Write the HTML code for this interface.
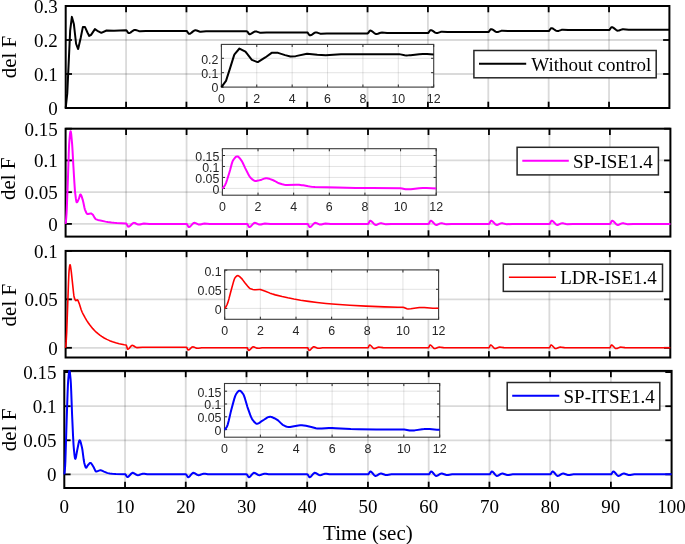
<!DOCTYPE html><html><head><meta charset="utf-8"><style>html,body{margin:0;padding:0;background:#fff;width:685px;height:544px;overflow:hidden}svg{display:block;will-change:transform}</style></head><body>
<svg width="685" height="544" viewBox="0 0 685 544">
<rect width="685" height="544" fill="#fff"/>
<line x1="126.07" y1="6.0" x2="126.07" y2="108.0" stroke="rgba(38,38,38,0.17)" stroke-width="1.8"/>
<line x1="186.44" y1="6.0" x2="186.44" y2="108.0" stroke="rgba(38,38,38,0.17)" stroke-width="1.8"/>
<line x1="246.81" y1="6.0" x2="246.81" y2="108.0" stroke="rgba(38,38,38,0.17)" stroke-width="1.8"/>
<line x1="307.18" y1="6.0" x2="307.18" y2="108.0" stroke="rgba(38,38,38,0.17)" stroke-width="1.8"/>
<line x1="367.55" y1="6.0" x2="367.55" y2="108.0" stroke="rgba(38,38,38,0.17)" stroke-width="1.8"/>
<line x1="427.92" y1="6.0" x2="427.92" y2="108.0" stroke="rgba(38,38,38,0.17)" stroke-width="1.8"/>
<line x1="488.29" y1="6.0" x2="488.29" y2="108.0" stroke="rgba(38,38,38,0.17)" stroke-width="1.8"/>
<line x1="548.66" y1="6.0" x2="548.66" y2="108.0" stroke="rgba(38,38,38,0.17)" stroke-width="1.8"/>
<line x1="609.03" y1="6.0" x2="609.03" y2="108.0" stroke="rgba(38,38,38,0.17)" stroke-width="1.8"/>
<line x1="65.7" y1="74.00" x2="669.4" y2="74.00" stroke="rgba(38,38,38,0.17)" stroke-width="1.8"/>
<line x1="65.7" y1="40.00" x2="669.4" y2="40.00" stroke="rgba(38,38,38,0.17)" stroke-width="1.8"/>
<line x1="126.07" y1="108.0" x2="126.07" y2="101.7" stroke="#000" stroke-width="1.8"/>
<line x1="126.07" y1="6.0" x2="126.07" y2="12.3" stroke="#000" stroke-width="1.8"/>
<line x1="186.44" y1="108.0" x2="186.44" y2="101.7" stroke="#000" stroke-width="1.8"/>
<line x1="186.44" y1="6.0" x2="186.44" y2="12.3" stroke="#000" stroke-width="1.8"/>
<line x1="246.81" y1="108.0" x2="246.81" y2="101.7" stroke="#000" stroke-width="1.8"/>
<line x1="246.81" y1="6.0" x2="246.81" y2="12.3" stroke="#000" stroke-width="1.8"/>
<line x1="307.18" y1="108.0" x2="307.18" y2="101.7" stroke="#000" stroke-width="1.8"/>
<line x1="307.18" y1="6.0" x2="307.18" y2="12.3" stroke="#000" stroke-width="1.8"/>
<line x1="367.55" y1="108.0" x2="367.55" y2="101.7" stroke="#000" stroke-width="1.8"/>
<line x1="367.55" y1="6.0" x2="367.55" y2="12.3" stroke="#000" stroke-width="1.8"/>
<line x1="427.92" y1="108.0" x2="427.92" y2="101.7" stroke="#000" stroke-width="1.8"/>
<line x1="427.92" y1="6.0" x2="427.92" y2="12.3" stroke="#000" stroke-width="1.8"/>
<line x1="488.29" y1="108.0" x2="488.29" y2="101.7" stroke="#000" stroke-width="1.8"/>
<line x1="488.29" y1="6.0" x2="488.29" y2="12.3" stroke="#000" stroke-width="1.8"/>
<line x1="548.66" y1="108.0" x2="548.66" y2="101.7" stroke="#000" stroke-width="1.8"/>
<line x1="548.66" y1="6.0" x2="548.66" y2="12.3" stroke="#000" stroke-width="1.8"/>
<line x1="609.03" y1="108.0" x2="609.03" y2="101.7" stroke="#000" stroke-width="1.8"/>
<line x1="609.03" y1="6.0" x2="609.03" y2="12.3" stroke="#000" stroke-width="1.8"/>
<line x1="65.7" y1="108.00" x2="72.0" y2="108.00" stroke="#000" stroke-width="1.8"/>
<line x1="669.4" y1="108.00" x2="663.1" y2="108.00" stroke="#000" stroke-width="1.8"/>
<line x1="65.7" y1="74.00" x2="72.0" y2="74.00" stroke="#000" stroke-width="1.8"/>
<line x1="669.4" y1="74.00" x2="663.1" y2="74.00" stroke="#000" stroke-width="1.8"/>
<line x1="65.7" y1="40.00" x2="72.0" y2="40.00" stroke="#000" stroke-width="1.8"/>
<line x1="669.4" y1="40.00" x2="663.1" y2="40.00" stroke="#000" stroke-width="1.8"/>
<line x1="65.7" y1="6.00" x2="72.0" y2="6.00" stroke="#000" stroke-width="1.8"/>
<line x1="669.4" y1="6.00" x2="663.1" y2="6.00" stroke="#000" stroke-width="1.8"/>
<rect x="65.7" y="6.0" width="603.70" height="102.00" fill="none" stroke="#000" stroke-width="2"/>
<path d="M65.70,108.00 L67.27,93.38 L70.17,30.67 L71.86,16.88 L73.91,24.36 L76.08,43.74 L78.02,49.02 L78.14,48.92 L80.67,37.96 L82.85,27.08 L85.02,27.08 L87.43,32.52 L89.24,35.92 L91.06,34.90 L94.92,29.12 L98.42,31.46 L101.32,32.86 L106.51,30.48 L114.00,30.65 L126.07,30.24 L126.43,30.38 L126.79,30.75 L127.88,32.38 L128.24,32.83 L128.61,33.10 L128.97,33.12 L129.69,32.94 L130.42,32.58 L132.83,30.81 L133.56,30.35 L134.28,30.04 L135.00,29.94 L135.61,30.00 L136.33,30.18 L139.05,31.18 L139.65,31.31 L140.26,31.36 L145.69,30.96 L186.44,30.96 L186.74,31.06 L187.04,31.32 L188.55,33.48 L188.85,33.75 L189.16,33.85 L189.76,33.75 L190.67,33.31 L191.57,32.64 L193.08,31.37 L193.99,30.73 L194.89,30.36 L195.50,30.31 L196.70,30.55 L199.42,31.55 L200.02,31.69 L200.63,31.74 L206.06,31.33 L246.81,31.33 L247.11,31.43 L247.41,31.69 L248.92,33.86 L249.22,34.12 L249.53,34.22 L250.13,34.14 L250.73,33.94 L251.64,33.46 L254.05,31.91 L254.96,31.54 L255.56,31.44 L256.17,31.47 L256.77,31.59 L259.79,32.67 L260.39,32.81 L261.00,32.86 L266.43,32.45 L307.18,32.45 L307.48,32.55 L307.78,32.82 L309.29,34.98 L309.59,35.24 L309.90,35.34 L310.50,35.26 L311.10,35.05 L312.01,34.55 L314.42,32.92 L315.33,32.53 L315.93,32.42 L316.54,32.45 L317.14,32.57 L320.16,33.66 L320.76,33.79 L321.37,33.85 L326.80,33.44 L367.55,33.44 L367.85,33.34 L368.15,33.07 L369.66,30.91 L369.96,30.65 L370.27,30.55 L370.87,30.64 L371.78,31.08 L372.68,31.74 L374.19,33.00 L375.10,33.63 L376.00,34.00 L376.61,34.05 L377.81,33.81 L380.53,32.81 L381.13,32.67 L381.74,32.62 L387.17,33.03 L427.92,33.03 L428.22,32.93 L428.52,32.67 L430.03,30.50 L430.33,30.24 L430.64,30.14 L431.24,30.22 L431.84,30.43 L432.75,30.94 L435.16,32.56 L436.07,32.95 L436.67,33.06 L437.28,33.03 L437.88,32.91 L440.90,31.82 L441.50,31.69 L442.11,31.64 L447.54,32.04 L488.29,32.04 L488.59,31.94 L488.89,31.68 L490.40,29.52 L490.70,29.25 L491.01,29.15 L491.61,29.23 L492.21,29.45 L493.12,29.95 L495.53,31.57 L496.44,31.97 L497.04,32.07 L497.65,32.04 L498.25,31.92 L501.27,30.84 L501.87,30.70 L502.48,30.65 L507.91,31.06 L548.66,31.06 L548.96,30.96 L549.26,30.69 L550.77,28.53 L551.07,28.27 L551.38,28.17 L551.98,28.25 L552.58,28.46 L553.49,28.96 L555.90,30.56 L556.81,30.95 L557.41,31.05 L558.02,31.02 L558.62,30.90 L561.64,29.82 L562.24,29.68 L562.85,29.63 L568.28,30.04 L609.03,30.04 L609.33,29.94 L609.63,29.67 L611.14,27.51 L611.44,27.25 L611.75,27.15 L612.35,27.24 L612.95,27.50 L613.86,28.10 L616.27,30.04 L617.18,30.52 L617.78,30.65 L618.39,30.62 L618.99,30.50 L622.01,29.41 L622.61,29.27 L623.22,29.22 L628.65,29.63 L669.40,29.63" fill="none" stroke="#000000" stroke-width="2.0" stroke-linejoin="round"/>
<text x="57.80" y="114.90" style="font-family:'Liberation Serif',serif;font-size:19px" text-anchor="end" fill="#000">0</text>
<text x="57.80" y="80.90" style="font-family:'Liberation Serif',serif;font-size:19px" text-anchor="end" fill="#000">0.1</text>
<text x="57.80" y="46.90" style="font-family:'Liberation Serif',serif;font-size:19px" text-anchor="end" fill="#000">0.2</text>
<text x="57.80" y="12.90" style="font-family:'Liberation Serif',serif;font-size:19px" text-anchor="end" fill="#000">0.3</text>
<text transform="translate(16.10,57.00) rotate(-90)" style="font-family:'Liberation Serif',serif;font-size:21px" text-anchor="middle" fill="#000">del F</text>
<rect x="221.4" y="44.4" width="212.30" height="42.70" fill="#fff"/>
<line x1="256.78" y1="44.4" x2="256.78" y2="87.1" stroke="rgba(38,38,38,0.13)" stroke-width="1"/>
<line x1="292.17" y1="44.4" x2="292.17" y2="87.1" stroke="rgba(38,38,38,0.13)" stroke-width="1"/>
<line x1="327.55" y1="44.4" x2="327.55" y2="87.1" stroke="rgba(38,38,38,0.13)" stroke-width="1"/>
<line x1="362.93" y1="44.4" x2="362.93" y2="87.1" stroke="rgba(38,38,38,0.13)" stroke-width="1"/>
<line x1="398.32" y1="44.4" x2="398.32" y2="87.1" stroke="rgba(38,38,38,0.13)" stroke-width="1"/>
<line x1="221.4" y1="72.70" x2="433.7" y2="72.70" stroke="rgba(38,38,38,0.13)" stroke-width="1"/>
<line x1="221.4" y1="58.30" x2="433.7" y2="58.30" stroke="rgba(38,38,38,0.13)" stroke-width="1"/>
<line x1="221.40" y1="87.1" x2="221.40" y2="84.5" stroke="#262626" stroke-width="1"/>
<line x1="221.40" y1="44.4" x2="221.40" y2="47.0" stroke="#262626" stroke-width="1"/>
<line x1="256.78" y1="87.1" x2="256.78" y2="84.5" stroke="#262626" stroke-width="1"/>
<line x1="256.78" y1="44.4" x2="256.78" y2="47.0" stroke="#262626" stroke-width="1"/>
<line x1="292.17" y1="87.1" x2="292.17" y2="84.5" stroke="#262626" stroke-width="1"/>
<line x1="292.17" y1="44.4" x2="292.17" y2="47.0" stroke="#262626" stroke-width="1"/>
<line x1="327.55" y1="87.1" x2="327.55" y2="84.5" stroke="#262626" stroke-width="1"/>
<line x1="327.55" y1="44.4" x2="327.55" y2="47.0" stroke="#262626" stroke-width="1"/>
<line x1="362.93" y1="87.1" x2="362.93" y2="84.5" stroke="#262626" stroke-width="1"/>
<line x1="362.93" y1="44.4" x2="362.93" y2="47.0" stroke="#262626" stroke-width="1"/>
<line x1="398.32" y1="87.1" x2="398.32" y2="84.5" stroke="#262626" stroke-width="1"/>
<line x1="398.32" y1="44.4" x2="398.32" y2="47.0" stroke="#262626" stroke-width="1"/>
<line x1="433.70" y1="87.1" x2="433.70" y2="84.5" stroke="#262626" stroke-width="1"/>
<line x1="433.70" y1="44.4" x2="433.70" y2="47.0" stroke="#262626" stroke-width="1"/>
<line x1="221.4" y1="87.10" x2="224.0" y2="87.10" stroke="#262626" stroke-width="1"/>
<line x1="433.7" y1="87.10" x2="431.09999999999997" y2="87.10" stroke="#262626" stroke-width="1"/>
<line x1="221.4" y1="72.70" x2="224.0" y2="72.70" stroke="#262626" stroke-width="1"/>
<line x1="433.7" y1="72.70" x2="431.09999999999997" y2="72.70" stroke="#262626" stroke-width="1"/>
<line x1="221.4" y1="58.30" x2="224.0" y2="58.30" stroke="#262626" stroke-width="1"/>
<line x1="433.7" y1="58.30" x2="431.09999999999997" y2="58.30" stroke="#262626" stroke-width="1"/>
<rect x="221.4" y="44.4" width="212.30" height="42.70" fill="none" stroke="#3a3a3a" stroke-width="1.1"/>
<path d="M221.40,87.10 L226.00,80.91 L230.25,67.66 L234.14,55.13 L234.49,54.35 L239.45,48.51 L245.46,51.68 L251.83,59.88 L257.49,62.12 L257.84,62.08 L265.28,57.44 L271.64,52.83 L278.01,52.83 L285.09,55.13 L290.40,56.57 L295.70,56.14 L307.03,53.69 L317.29,54.68 L325.78,55.28 L341.00,54.27 L362.93,54.34 L398.32,54.17 L399.38,54.23 L400.44,54.38 L404.69,55.26 L406.45,55.39 L408.58,55.33 L410.70,55.19 L419.19,54.30 L422.73,54.07 L426.98,54.08 L433.70,54.43" fill="none" stroke="#000000" stroke-width="2.0" stroke-linejoin="round"/>
<text x="221.40" y="102.70" style="font-family:'Liberation Sans',sans-serif;font-size:12.4px" text-anchor="middle" fill="#262626">0</text>
<text x="256.78" y="102.70" style="font-family:'Liberation Sans',sans-serif;font-size:12.4px" text-anchor="middle" fill="#262626">2</text>
<text x="292.17" y="102.70" style="font-family:'Liberation Sans',sans-serif;font-size:12.4px" text-anchor="middle" fill="#262626">4</text>
<text x="327.55" y="102.70" style="font-family:'Liberation Sans',sans-serif;font-size:12.4px" text-anchor="middle" fill="#262626">6</text>
<text x="362.93" y="102.70" style="font-family:'Liberation Sans',sans-serif;font-size:12.4px" text-anchor="middle" fill="#262626">8</text>
<text x="398.32" y="102.70" style="font-family:'Liberation Sans',sans-serif;font-size:12.4px" text-anchor="middle" fill="#262626">10</text>
<text x="433.70" y="102.70" style="font-family:'Liberation Sans',sans-serif;font-size:12.4px" text-anchor="middle" fill="#262626">12</text>
<text x="218.40" y="92.40" style="font-family:'Liberation Sans',sans-serif;font-size:12.4px" text-anchor="end" fill="#262626">0</text>
<text x="218.40" y="78.00" style="font-family:'Liberation Sans',sans-serif;font-size:12.4px" text-anchor="end" fill="#262626">0.1</text>
<text x="218.40" y="63.60" style="font-family:'Liberation Sans',sans-serif;font-size:12.4px" text-anchor="end" fill="#262626">0.2</text>
<rect x="473.9" y="50.5" width="182.3" height="27.3" fill="#fff" stroke="#262626" stroke-width="1.5"/>
<line x1="479.0" y1="63.7" x2="526.2" y2="63.7" stroke="#000000" stroke-width="2.0"/>
<text x="531.3" y="70.90" style="font-family:'Liberation Serif',serif;font-size:19px" fill="#000">Without control</text>
<line x1="126.08" y1="128.7" x2="126.08" y2="236.6" stroke="rgba(38,38,38,0.17)" stroke-width="1.8"/>
<line x1="186.56" y1="128.7" x2="186.56" y2="236.6" stroke="rgba(38,38,38,0.17)" stroke-width="1.8"/>
<line x1="247.04" y1="128.7" x2="247.04" y2="236.6" stroke="rgba(38,38,38,0.17)" stroke-width="1.8"/>
<line x1="307.52" y1="128.7" x2="307.52" y2="236.6" stroke="rgba(38,38,38,0.17)" stroke-width="1.8"/>
<line x1="368.00" y1="128.7" x2="368.00" y2="236.6" stroke="rgba(38,38,38,0.17)" stroke-width="1.8"/>
<line x1="428.48" y1="128.7" x2="428.48" y2="236.6" stroke="rgba(38,38,38,0.17)" stroke-width="1.8"/>
<line x1="488.96" y1="128.7" x2="488.96" y2="236.6" stroke="rgba(38,38,38,0.17)" stroke-width="1.8"/>
<line x1="549.44" y1="128.7" x2="549.44" y2="236.6" stroke="rgba(38,38,38,0.17)" stroke-width="1.8"/>
<line x1="609.92" y1="128.7" x2="609.92" y2="236.6" stroke="rgba(38,38,38,0.17)" stroke-width="1.8"/>
<line x1="65.6" y1="223.91" x2="670.4" y2="223.91" stroke="rgba(38,38,38,0.17)" stroke-width="1.8"/>
<line x1="65.6" y1="192.17" x2="670.4" y2="192.17" stroke="rgba(38,38,38,0.17)" stroke-width="1.8"/>
<line x1="65.6" y1="160.44" x2="670.4" y2="160.44" stroke="rgba(38,38,38,0.17)" stroke-width="1.8"/>
<line x1="126.08" y1="236.6" x2="126.08" y2="230.29999999999998" stroke="#000" stroke-width="1.8"/>
<line x1="126.08" y1="128.7" x2="126.08" y2="135.0" stroke="#000" stroke-width="1.8"/>
<line x1="186.56" y1="236.6" x2="186.56" y2="230.29999999999998" stroke="#000" stroke-width="1.8"/>
<line x1="186.56" y1="128.7" x2="186.56" y2="135.0" stroke="#000" stroke-width="1.8"/>
<line x1="247.04" y1="236.6" x2="247.04" y2="230.29999999999998" stroke="#000" stroke-width="1.8"/>
<line x1="247.04" y1="128.7" x2="247.04" y2="135.0" stroke="#000" stroke-width="1.8"/>
<line x1="307.52" y1="236.6" x2="307.52" y2="230.29999999999998" stroke="#000" stroke-width="1.8"/>
<line x1="307.52" y1="128.7" x2="307.52" y2="135.0" stroke="#000" stroke-width="1.8"/>
<line x1="368.00" y1="236.6" x2="368.00" y2="230.29999999999998" stroke="#000" stroke-width="1.8"/>
<line x1="368.00" y1="128.7" x2="368.00" y2="135.0" stroke="#000" stroke-width="1.8"/>
<line x1="428.48" y1="236.6" x2="428.48" y2="230.29999999999998" stroke="#000" stroke-width="1.8"/>
<line x1="428.48" y1="128.7" x2="428.48" y2="135.0" stroke="#000" stroke-width="1.8"/>
<line x1="488.96" y1="236.6" x2="488.96" y2="230.29999999999998" stroke="#000" stroke-width="1.8"/>
<line x1="488.96" y1="128.7" x2="488.96" y2="135.0" stroke="#000" stroke-width="1.8"/>
<line x1="549.44" y1="236.6" x2="549.44" y2="230.29999999999998" stroke="#000" stroke-width="1.8"/>
<line x1="549.44" y1="128.7" x2="549.44" y2="135.0" stroke="#000" stroke-width="1.8"/>
<line x1="609.92" y1="236.6" x2="609.92" y2="230.29999999999998" stroke="#000" stroke-width="1.8"/>
<line x1="609.92" y1="128.7" x2="609.92" y2="135.0" stroke="#000" stroke-width="1.8"/>
<line x1="65.6" y1="223.91" x2="71.89999999999999" y2="223.91" stroke="#000" stroke-width="1.8"/>
<line x1="670.4" y1="223.91" x2="664.1" y2="223.91" stroke="#000" stroke-width="1.8"/>
<line x1="65.6" y1="192.17" x2="71.89999999999999" y2="192.17" stroke="#000" stroke-width="1.8"/>
<line x1="670.4" y1="192.17" x2="664.1" y2="192.17" stroke="#000" stroke-width="1.8"/>
<line x1="65.6" y1="160.44" x2="71.89999999999999" y2="160.44" stroke="#000" stroke-width="1.8"/>
<line x1="670.4" y1="160.44" x2="664.1" y2="160.44" stroke="#000" stroke-width="1.8"/>
<line x1="65.6" y1="128.70" x2="71.89999999999999" y2="128.70" stroke="#000" stroke-width="1.8"/>
<line x1="670.4" y1="128.70" x2="664.1" y2="128.70" stroke="#000" stroke-width="1.8"/>
<rect x="65.6" y="128.7" width="604.80" height="107.90" fill="none" stroke="#000" stroke-width="2"/>
<path d="M65.60,223.91 L65.84,222.16 L66.20,218.25 L66.57,213.13 L66.81,208.44 L68.02,176.30 L68.74,153.70 L69.11,144.58 L69.47,139.63 L69.95,134.45 L70.32,131.96 L70.56,131.27 L70.68,131.27 L70.80,131.55 L71.16,133.69 L72.13,144.11 L72.49,149.59 L73.34,165.22 L74.31,181.54 L74.91,190.35 L75.16,192.81 L75.88,198.66 L76.24,200.87 L76.61,202.15 L76.73,202.31 L76.85,202.32 L77.09,202.20 L77.33,201.94 L77.70,201.36 L78.91,198.70 L79.99,194.97 L80.24,194.51 L80.36,194.41 L80.60,194.45 L80.96,194.86 L81.45,195.89 L82.90,200.40 L83.38,202.47 L84.47,207.81 L84.95,209.62 L86.28,212.75 L86.77,213.55 L87.13,213.93 L87.49,214.07 L87.98,214.04 L90.76,213.50 L91.24,213.53 L91.61,213.69 L92.57,214.44 L93.06,214.99 L94.75,217.89 L95.48,218.87 L95.72,219.07 L96.20,219.32 L97.78,219.91 L99.35,220.32 L105.52,221.64 L107.82,222.05 L111.44,222.56 L114.10,222.86 L116.77,223.07 L126.08,223.53 L126.32,223.64 L126.56,223.93 L127.77,226.24 L128.02,226.54 L128.26,226.69 L128.86,226.60 L129.47,226.28 L130.19,225.69 L132.49,223.47 L133.22,223.00 L133.58,222.87 L133.94,222.83 L134.43,222.88 L134.91,223.01 L137.57,224.33 L138.18,224.53 L138.78,224.60 L139.99,224.46 L142.71,223.73 L143.92,223.59 L149.36,223.91 L186.56,223.91 L186.86,224.06 L187.16,224.48 L188.07,226.29 L188.37,226.78 L188.68,227.05 L188.98,227.07 L189.58,226.85 L190.19,226.43 L190.79,225.85 L192.61,223.87 L193.21,223.33 L193.82,222.96 L194.42,222.83 L195.03,222.90 L195.63,223.10 L197.75,224.19 L198.35,224.44 L199.26,224.60 L200.47,224.46 L203.19,223.73 L204.40,223.59 L209.84,223.91 L247.04,223.91 L247.34,224.06 L247.64,224.48 L248.55,226.29 L248.85,226.78 L249.16,227.05 L249.46,227.07 L250.06,226.85 L250.67,226.43 L251.27,225.85 L253.09,223.87 L253.69,223.33 L254.30,222.96 L254.90,222.83 L255.51,222.90 L256.11,223.10 L258.23,224.19 L258.83,224.44 L259.74,224.60 L260.95,224.46 L263.67,223.73 L264.88,223.59 L270.32,223.91 L307.52,223.91 L307.82,224.06 L308.12,224.48 L309.03,226.29 L309.33,226.78 L309.64,227.05 L309.94,227.07 L310.54,226.85 L311.15,226.43 L311.75,225.85 L313.57,223.87 L314.17,223.33 L314.78,222.96 L315.38,222.83 L315.99,222.90 L316.59,223.10 L318.71,224.19 L319.31,224.44 L320.22,224.60 L321.43,224.46 L324.15,223.73 L325.36,223.59 L330.80,223.91 L368.00,223.91 L368.30,223.75 L368.60,223.34 L369.51,221.52 L369.81,221.03 L370.12,220.76 L370.42,220.75 L371.02,220.96 L371.63,221.38 L372.23,221.96 L374.05,223.94 L374.65,224.48 L375.26,224.85 L375.86,224.98 L376.47,224.91 L377.07,224.71 L379.19,223.62 L379.79,223.37 L380.70,223.21 L381.91,223.35 L384.63,224.08 L385.84,224.22 L391.28,223.91 L428.48,223.91 L428.78,223.75 L429.08,223.34 L429.99,221.52 L430.29,221.03 L430.60,220.76 L430.90,220.75 L431.50,220.96 L432.11,221.38 L432.71,221.96 L434.53,223.94 L435.13,224.48 L435.74,224.85 L436.34,224.98 L436.95,224.91 L437.55,224.71 L439.67,223.62 L440.27,223.37 L441.18,223.21 L442.39,223.35 L445.11,224.08 L446.32,224.22 L451.76,223.91 L488.96,223.91 L489.26,223.75 L489.56,223.34 L490.47,221.52 L490.77,221.03 L491.08,220.76 L491.38,220.75 L491.98,220.96 L492.59,221.38 L493.19,221.96 L495.01,223.94 L495.61,224.48 L496.22,224.85 L496.82,224.98 L497.43,224.91 L498.03,224.71 L500.15,223.62 L500.75,223.37 L501.66,223.21 L502.87,223.35 L505.59,224.08 L506.80,224.22 L512.24,223.91 L549.44,223.91 L549.74,223.75 L550.04,223.34 L550.95,221.52 L551.25,221.03 L551.56,220.76 L551.86,220.75 L552.46,220.96 L553.07,221.38 L553.67,221.96 L555.49,223.94 L556.09,224.48 L556.70,224.85 L557.30,224.98 L557.91,224.91 L558.51,224.71 L560.63,223.62 L561.23,223.37 L562.14,223.21 L563.35,223.35 L566.07,224.08 L567.28,224.22 L572.72,223.91 L609.92,223.91 L610.22,223.75 L610.52,223.34 L611.43,221.52 L611.73,221.03 L612.04,220.76 L612.34,220.75 L612.94,220.96 L613.55,221.38 L614.15,221.96 L615.97,223.94 L616.57,224.48 L617.18,224.85 L617.78,224.98 L618.39,224.91 L618.99,224.71 L621.11,223.62 L621.71,223.37 L622.62,223.21 L623.83,223.35 L626.55,224.08 L627.76,224.22 L633.20,223.91 L670.40,223.91" fill="none" stroke="#ff00ff" stroke-width="2.0" stroke-linejoin="round"/>
<text x="57.70" y="230.81" style="font-family:'Liberation Serif',serif;font-size:19px" text-anchor="end" fill="#000">0</text>
<text x="57.70" y="199.07" style="font-family:'Liberation Serif',serif;font-size:19px" text-anchor="end" fill="#000">0.05</text>
<text x="57.70" y="167.34" style="font-family:'Liberation Serif',serif;font-size:19px" text-anchor="end" fill="#000">0.1</text>
<text x="57.70" y="135.60" style="font-family:'Liberation Serif',serif;font-size:19px" text-anchor="end" fill="#000">0.15</text>
<text transform="translate(14.70,178.75) rotate(-90)" style="font-family:'Liberation Serif',serif;font-size:21px" text-anchor="middle" fill="#000">del F</text>
<rect x="222.4" y="148.7" width="213.80" height="46.50" fill="#fff"/>
<line x1="258.03" y1="148.7" x2="258.03" y2="195.2" stroke="rgba(38,38,38,0.13)" stroke-width="1"/>
<line x1="293.67" y1="148.7" x2="293.67" y2="195.2" stroke="rgba(38,38,38,0.13)" stroke-width="1"/>
<line x1="329.30" y1="148.7" x2="329.30" y2="195.2" stroke="rgba(38,38,38,0.13)" stroke-width="1"/>
<line x1="364.93" y1="148.7" x2="364.93" y2="195.2" stroke="rgba(38,38,38,0.13)" stroke-width="1"/>
<line x1="400.57" y1="148.7" x2="400.57" y2="195.2" stroke="rgba(38,38,38,0.13)" stroke-width="1"/>
<line x1="222.4" y1="188.40" x2="436.2" y2="188.40" stroke="rgba(38,38,38,0.13)" stroke-width="1"/>
<line x1="222.4" y1="177.43" x2="436.2" y2="177.43" stroke="rgba(38,38,38,0.13)" stroke-width="1"/>
<line x1="222.4" y1="166.46" x2="436.2" y2="166.46" stroke="rgba(38,38,38,0.13)" stroke-width="1"/>
<line x1="222.4" y1="155.49" x2="436.2" y2="155.49" stroke="rgba(38,38,38,0.13)" stroke-width="1"/>
<line x1="222.40" y1="195.2" x2="222.40" y2="192.6" stroke="#262626" stroke-width="1"/>
<line x1="222.40" y1="148.7" x2="222.40" y2="151.29999999999998" stroke="#262626" stroke-width="1"/>
<line x1="258.03" y1="195.2" x2="258.03" y2="192.6" stroke="#262626" stroke-width="1"/>
<line x1="258.03" y1="148.7" x2="258.03" y2="151.29999999999998" stroke="#262626" stroke-width="1"/>
<line x1="293.67" y1="195.2" x2="293.67" y2="192.6" stroke="#262626" stroke-width="1"/>
<line x1="293.67" y1="148.7" x2="293.67" y2="151.29999999999998" stroke="#262626" stroke-width="1"/>
<line x1="329.30" y1="195.2" x2="329.30" y2="192.6" stroke="#262626" stroke-width="1"/>
<line x1="329.30" y1="148.7" x2="329.30" y2="151.29999999999998" stroke="#262626" stroke-width="1"/>
<line x1="364.93" y1="195.2" x2="364.93" y2="192.6" stroke="#262626" stroke-width="1"/>
<line x1="364.93" y1="148.7" x2="364.93" y2="151.29999999999998" stroke="#262626" stroke-width="1"/>
<line x1="400.57" y1="195.2" x2="400.57" y2="192.6" stroke="#262626" stroke-width="1"/>
<line x1="400.57" y1="148.7" x2="400.57" y2="151.29999999999998" stroke="#262626" stroke-width="1"/>
<line x1="436.20" y1="195.2" x2="436.20" y2="192.6" stroke="#262626" stroke-width="1"/>
<line x1="436.20" y1="148.7" x2="436.20" y2="151.29999999999998" stroke="#262626" stroke-width="1"/>
<line x1="222.4" y1="188.40" x2="225.0" y2="188.40" stroke="#262626" stroke-width="1"/>
<line x1="436.2" y1="188.40" x2="433.59999999999997" y2="188.40" stroke="#262626" stroke-width="1"/>
<line x1="222.4" y1="177.43" x2="225.0" y2="177.43" stroke="#262626" stroke-width="1"/>
<line x1="436.2" y1="177.43" x2="433.59999999999997" y2="177.43" stroke="#262626" stroke-width="1"/>
<line x1="222.4" y1="166.46" x2="225.0" y2="166.46" stroke="#262626" stroke-width="1"/>
<line x1="436.2" y1="166.46" x2="433.59999999999997" y2="166.46" stroke="#262626" stroke-width="1"/>
<line x1="222.4" y1="155.49" x2="225.0" y2="155.49" stroke="#262626" stroke-width="1"/>
<line x1="436.2" y1="155.49" x2="433.59999999999997" y2="155.49" stroke="#262626" stroke-width="1"/>
<rect x="222.4" y="148.7" width="213.80" height="46.50" fill="none" stroke="#3a3a3a" stroke-width="1.1"/>
<path d="M222.40,188.40 L223.11,187.80 L224.18,186.45 L225.25,184.68 L225.96,183.05 L227.03,180.01 L229.53,171.94 L230.24,169.51 L231.66,164.13 L232.38,161.86 L232.73,160.98 L233.09,160.32 L233.80,159.27 L234.52,158.30 L235.23,157.48 L235.94,156.84 L236.30,156.62 L237.01,156.38 L237.37,156.38 L237.72,156.47 L238.08,156.65 L238.79,157.22 L239.86,158.43 L241.64,160.82 L242.71,162.71 L245.21,168.11 L248.06,173.75 L249.12,175.71 L249.84,176.80 L250.55,177.65 L252.69,179.67 L253.76,180.44 L254.47,180.78 L254.83,180.88 L255.54,180.94 L256.25,180.90 L258.03,180.61 L261.60,179.69 L264.80,178.40 L265.87,178.20 L266.94,178.25 L268.01,178.43 L269.44,178.83 L273.36,180.27 L274.78,180.99 L277.63,182.65 L279.06,183.33 L282.26,184.28 L284.40,184.76 L285.83,184.95 L286.90,185.00 L296.16,184.81 L299.01,184.87 L301.86,185.13 L303.29,185.32 L308.28,186.32 L310.06,186.61 L311.48,186.75 L315.05,186.94 L337.85,187.57 L355.67,187.91 L372.06,188.10 L400.57,188.27 L401.99,188.41 L405.56,189.21 L406.98,189.36 L408.76,189.33 L410.90,189.19 L419.10,188.28 L422.66,188.04 L426.58,188.09 L436.20,188.61" fill="none" stroke="#ff00ff" stroke-width="2.0" stroke-linejoin="round"/>
<text x="222.40" y="210.80" style="font-family:'Liberation Sans',sans-serif;font-size:12.4px" text-anchor="middle" fill="#262626">0</text>
<text x="258.03" y="210.80" style="font-family:'Liberation Sans',sans-serif;font-size:12.4px" text-anchor="middle" fill="#262626">2</text>
<text x="293.67" y="210.80" style="font-family:'Liberation Sans',sans-serif;font-size:12.4px" text-anchor="middle" fill="#262626">4</text>
<text x="329.30" y="210.80" style="font-family:'Liberation Sans',sans-serif;font-size:12.4px" text-anchor="middle" fill="#262626">6</text>
<text x="364.93" y="210.80" style="font-family:'Liberation Sans',sans-serif;font-size:12.4px" text-anchor="middle" fill="#262626">8</text>
<text x="400.57" y="210.80" style="font-family:'Liberation Sans',sans-serif;font-size:12.4px" text-anchor="middle" fill="#262626">10</text>
<text x="436.20" y="210.80" style="font-family:'Liberation Sans',sans-serif;font-size:12.4px" text-anchor="middle" fill="#262626">12</text>
<text x="219.40" y="193.70" style="font-family:'Liberation Sans',sans-serif;font-size:12.4px" text-anchor="end" fill="#262626">0</text>
<text x="219.40" y="182.73" style="font-family:'Liberation Sans',sans-serif;font-size:12.4px" text-anchor="end" fill="#262626">0.05</text>
<text x="219.40" y="171.76" style="font-family:'Liberation Sans',sans-serif;font-size:12.4px" text-anchor="end" fill="#262626">0.1</text>
<text x="219.40" y="160.79" style="font-family:'Liberation Sans',sans-serif;font-size:12.4px" text-anchor="end" fill="#262626">0.15</text>
<rect x="517.1" y="147.3" width="141.3" height="27.6" fill="#fff" stroke="#262626" stroke-width="1.5"/>
<line x1="522.3" y1="160.7" x2="568.8" y2="160.7" stroke="#ff00ff" stroke-width="2.0"/>
<text x="573.0" y="167.90" style="font-family:'Liberation Serif',serif;font-size:19px" fill="#000">SP-ISE1.4</text>
<line x1="126.07" y1="250.9" x2="126.07" y2="357.5" stroke="rgba(38,38,38,0.17)" stroke-width="1.8"/>
<line x1="186.54" y1="250.9" x2="186.54" y2="357.5" stroke="rgba(38,38,38,0.17)" stroke-width="1.8"/>
<line x1="247.01" y1="250.9" x2="247.01" y2="357.5" stroke="rgba(38,38,38,0.17)" stroke-width="1.8"/>
<line x1="307.48" y1="250.9" x2="307.48" y2="357.5" stroke="rgba(38,38,38,0.17)" stroke-width="1.8"/>
<line x1="367.95" y1="250.9" x2="367.95" y2="357.5" stroke="rgba(38,38,38,0.17)" stroke-width="1.8"/>
<line x1="428.42" y1="250.9" x2="428.42" y2="357.5" stroke="rgba(38,38,38,0.17)" stroke-width="1.8"/>
<line x1="488.89" y1="250.9" x2="488.89" y2="357.5" stroke="rgba(38,38,38,0.17)" stroke-width="1.8"/>
<line x1="549.36" y1="250.9" x2="549.36" y2="357.5" stroke="rgba(38,38,38,0.17)" stroke-width="1.8"/>
<line x1="609.83" y1="250.9" x2="609.83" y2="357.5" stroke="rgba(38,38,38,0.17)" stroke-width="1.8"/>
<line x1="65.6" y1="347.81" x2="670.3" y2="347.81" stroke="rgba(38,38,38,0.17)" stroke-width="1.8"/>
<line x1="65.6" y1="299.35" x2="670.3" y2="299.35" stroke="rgba(38,38,38,0.17)" stroke-width="1.8"/>
<line x1="126.07" y1="357.5" x2="126.07" y2="351.2" stroke="#000" stroke-width="1.8"/>
<line x1="126.07" y1="250.9" x2="126.07" y2="257.2" stroke="#000" stroke-width="1.8"/>
<line x1="186.54" y1="357.5" x2="186.54" y2="351.2" stroke="#000" stroke-width="1.8"/>
<line x1="186.54" y1="250.9" x2="186.54" y2="257.2" stroke="#000" stroke-width="1.8"/>
<line x1="247.01" y1="357.5" x2="247.01" y2="351.2" stroke="#000" stroke-width="1.8"/>
<line x1="247.01" y1="250.9" x2="247.01" y2="257.2" stroke="#000" stroke-width="1.8"/>
<line x1="307.48" y1="357.5" x2="307.48" y2="351.2" stroke="#000" stroke-width="1.8"/>
<line x1="307.48" y1="250.9" x2="307.48" y2="257.2" stroke="#000" stroke-width="1.8"/>
<line x1="367.95" y1="357.5" x2="367.95" y2="351.2" stroke="#000" stroke-width="1.8"/>
<line x1="367.95" y1="250.9" x2="367.95" y2="257.2" stroke="#000" stroke-width="1.8"/>
<line x1="428.42" y1="357.5" x2="428.42" y2="351.2" stroke="#000" stroke-width="1.8"/>
<line x1="428.42" y1="250.9" x2="428.42" y2="257.2" stroke="#000" stroke-width="1.8"/>
<line x1="488.89" y1="357.5" x2="488.89" y2="351.2" stroke="#000" stroke-width="1.8"/>
<line x1="488.89" y1="250.9" x2="488.89" y2="257.2" stroke="#000" stroke-width="1.8"/>
<line x1="549.36" y1="357.5" x2="549.36" y2="351.2" stroke="#000" stroke-width="1.8"/>
<line x1="549.36" y1="250.9" x2="549.36" y2="257.2" stroke="#000" stroke-width="1.8"/>
<line x1="609.83" y1="357.5" x2="609.83" y2="351.2" stroke="#000" stroke-width="1.8"/>
<line x1="609.83" y1="250.9" x2="609.83" y2="257.2" stroke="#000" stroke-width="1.8"/>
<line x1="65.6" y1="347.81" x2="71.89999999999999" y2="347.81" stroke="#000" stroke-width="1.8"/>
<line x1="670.3" y1="347.81" x2="664.0" y2="347.81" stroke="#000" stroke-width="1.8"/>
<line x1="65.6" y1="299.35" x2="71.89999999999999" y2="299.35" stroke="#000" stroke-width="1.8"/>
<line x1="670.3" y1="299.35" x2="664.0" y2="299.35" stroke="#000" stroke-width="1.8"/>
<line x1="65.6" y1="250.90" x2="71.89999999999999" y2="250.90" stroke="#000" stroke-width="1.8"/>
<line x1="670.3" y1="250.90" x2="664.0" y2="250.90" stroke="#000" stroke-width="1.8"/>
<rect x="65.6" y="250.9" width="604.70" height="106.60" fill="none" stroke="#000" stroke-width="2"/>
<path d="M65.60,347.81 L65.84,345.66 L66.20,341.14 L66.69,332.50 L68.50,282.49 L68.87,273.84 L69.11,270.28 L69.47,267.05 L69.83,264.97 L69.95,264.70 L70.07,264.69 L70.20,264.91 L70.44,265.89 L71.28,271.58 L73.58,293.24 L73.94,295.96 L74.31,297.61 L75.03,299.65 L75.40,300.31 L75.64,300.56 L75.88,300.61 L76.12,300.54 L76.97,299.98 L77.33,299.84 L77.57,299.91 L77.94,300.41 L79.39,304.04 L81.20,309.80 L82.17,312.24 L83.14,314.19 L85.19,317.94 L86.64,320.37 L88.22,322.78 L89.67,324.81 L91.24,326.83 L92.81,328.67 L94.50,330.47 L96.20,332.11 L98.01,333.69 L99.83,335.11 L101.64,336.38 L104.18,337.96 L106.84,339.38 L109.62,340.64 L112.52,341.76 L115.67,342.78 L119.18,343.71 L124.26,344.79 L126.07,345.00 L126.19,345.07 L126.43,345.52 L127.40,348.68 L127.64,349.11 L127.76,349.17 L128.25,349.05 L128.85,348.62 L129.46,347.98 L130.79,346.37 L131.39,345.78 L131.88,345.48 L132.36,345.39 L132.84,345.47 L133.45,345.73 L135.38,347.02 L135.99,347.37 L136.47,347.55 L136.95,347.62 L142.40,347.32 L186.54,347.32 L186.84,347.55 L187.75,349.50 L188.05,349.95 L188.35,350.03 L188.96,349.82 L189.56,349.37 L191.68,347.30 L192.28,346.94 L192.89,346.84 L193.49,346.93 L194.10,347.13 L196.52,348.15 L197.42,348.29 L198.63,348.22 L201.66,347.79 L202.87,347.71 L247.01,347.71 L247.31,347.94 L248.22,349.89 L248.52,350.34 L248.82,350.42 L249.43,350.18 L250.03,349.68 L252.15,347.36 L252.75,346.95 L253.06,346.86 L253.36,346.84 L253.96,346.93 L254.57,347.13 L256.99,348.15 L257.89,348.29 L259.41,348.18 L262.13,347.79 L263.34,347.71 L307.48,347.71 L307.78,347.94 L308.69,349.89 L308.99,350.34 L309.29,350.42 L309.60,350.34 L310.20,349.96 L312.62,347.36 L313.22,346.95 L313.53,346.86 L314.13,346.87 L314.74,347.02 L317.16,348.05 L317.76,348.23 L318.36,348.29 L319.88,348.18 L322.60,347.79 L323.81,347.71 L367.95,347.71 L368.25,347.48 L369.16,345.54 L369.46,345.09 L369.76,345.01 L370.37,345.24 L370.97,345.74 L373.09,348.06 L373.69,348.47 L374.00,348.57 L374.30,348.58 L374.90,348.49 L375.51,348.30 L377.93,347.27 L378.83,347.13 L380.04,347.20 L383.07,347.64 L384.28,347.71 L428.42,347.71 L428.72,347.48 L429.63,345.54 L429.93,345.09 L430.23,345.01 L430.84,345.24 L431.44,345.74 L433.56,348.06 L434.16,348.47 L434.47,348.57 L434.77,348.58 L435.37,348.49 L435.98,348.30 L438.40,347.27 L439.30,347.13 L440.51,347.20 L443.54,347.64 L444.75,347.71 L488.89,347.71 L489.19,347.48 L490.10,345.54 L490.40,345.09 L490.70,345.01 L491.31,345.24 L491.91,345.74 L494.03,348.06 L494.63,348.47 L494.94,348.57 L495.24,348.58 L495.84,348.49 L496.45,348.30 L498.87,347.27 L499.77,347.13 L500.98,347.20 L504.01,347.64 L505.22,347.71 L549.36,347.71 L549.66,347.48 L550.57,345.54 L550.87,345.09 L551.17,345.01 L551.78,345.24 L552.38,345.74 L554.50,348.06 L555.10,348.47 L555.41,348.57 L555.71,348.58 L556.31,348.49 L556.92,348.30 L559.34,347.27 L560.24,347.13 L561.45,347.20 L564.48,347.64 L565.69,347.71 L609.83,347.71 L610.13,347.48 L611.04,345.54 L611.34,345.09 L611.64,345.01 L611.95,345.09 L612.55,345.47 L614.97,348.06 L615.57,348.47 L615.88,348.57 L616.48,348.55 L617.09,348.40 L619.51,347.37 L620.11,347.20 L620.71,347.13 L621.92,347.20 L624.95,347.64 L626.16,347.71 L670.30,347.71" fill="none" stroke="#ff0000" stroke-width="1.6" stroke-linejoin="round"/>
<text x="57.70" y="354.71" style="font-family:'Liberation Serif',serif;font-size:19px" text-anchor="end" fill="#000">0</text>
<text x="57.70" y="306.25" style="font-family:'Liberation Serif',serif;font-size:19px" text-anchor="end" fill="#000">0.05</text>
<text x="57.70" y="257.80" style="font-family:'Liberation Serif',serif;font-size:19px" text-anchor="end" fill="#000">0.1</text>
<text transform="translate(16.10,305.10) rotate(-90)" style="font-family:'Liberation Serif',serif;font-size:21px" text-anchor="middle" fill="#000">del F</text>
<rect x="224.7" y="269.9" width="213.90" height="49.40" fill="#fff"/>
<line x1="260.35" y1="269.9" x2="260.35" y2="319.3" stroke="rgba(38,38,38,0.13)" stroke-width="1"/>
<line x1="296.00" y1="269.9" x2="296.00" y2="319.3" stroke="rgba(38,38,38,0.13)" stroke-width="1"/>
<line x1="331.65" y1="269.9" x2="331.65" y2="319.3" stroke="rgba(38,38,38,0.13)" stroke-width="1"/>
<line x1="367.30" y1="269.9" x2="367.30" y2="319.3" stroke="rgba(38,38,38,0.13)" stroke-width="1"/>
<line x1="402.95" y1="269.9" x2="402.95" y2="319.3" stroke="rgba(38,38,38,0.13)" stroke-width="1"/>
<line x1="224.7" y1="308.40" x2="438.6" y2="308.40" stroke="rgba(38,38,38,0.13)" stroke-width="1"/>
<line x1="224.7" y1="289.30" x2="438.6" y2="289.30" stroke="rgba(38,38,38,0.13)" stroke-width="1"/>
<line x1="224.70" y1="319.3" x2="224.70" y2="316.7" stroke="#262626" stroke-width="1"/>
<line x1="224.70" y1="269.9" x2="224.70" y2="272.5" stroke="#262626" stroke-width="1"/>
<line x1="260.35" y1="319.3" x2="260.35" y2="316.7" stroke="#262626" stroke-width="1"/>
<line x1="260.35" y1="269.9" x2="260.35" y2="272.5" stroke="#262626" stroke-width="1"/>
<line x1="296.00" y1="319.3" x2="296.00" y2="316.7" stroke="#262626" stroke-width="1"/>
<line x1="296.00" y1="269.9" x2="296.00" y2="272.5" stroke="#262626" stroke-width="1"/>
<line x1="331.65" y1="319.3" x2="331.65" y2="316.7" stroke="#262626" stroke-width="1"/>
<line x1="331.65" y1="269.9" x2="331.65" y2="272.5" stroke="#262626" stroke-width="1"/>
<line x1="367.30" y1="319.3" x2="367.30" y2="316.7" stroke="#262626" stroke-width="1"/>
<line x1="367.30" y1="269.9" x2="367.30" y2="272.5" stroke="#262626" stroke-width="1"/>
<line x1="402.95" y1="319.3" x2="402.95" y2="316.7" stroke="#262626" stroke-width="1"/>
<line x1="402.95" y1="269.9" x2="402.95" y2="272.5" stroke="#262626" stroke-width="1"/>
<line x1="438.60" y1="319.3" x2="438.60" y2="316.7" stroke="#262626" stroke-width="1"/>
<line x1="438.60" y1="269.9" x2="438.60" y2="272.5" stroke="#262626" stroke-width="1"/>
<line x1="224.7" y1="308.40" x2="227.29999999999998" y2="308.40" stroke="#262626" stroke-width="1"/>
<line x1="438.6" y1="308.40" x2="436.0" y2="308.40" stroke="#262626" stroke-width="1"/>
<line x1="224.7" y1="289.30" x2="227.29999999999998" y2="289.30" stroke="#262626" stroke-width="1"/>
<line x1="438.6" y1="289.30" x2="436.0" y2="289.30" stroke="#262626" stroke-width="1"/>
<line x1="224.7" y1="270.20" x2="227.29999999999998" y2="270.20" stroke="#262626" stroke-width="1"/>
<line x1="438.6" y1="270.20" x2="436.0" y2="270.20" stroke="#262626" stroke-width="1"/>
<rect x="224.7" y="269.9" width="213.90" height="49.40" fill="none" stroke="#3a3a3a" stroke-width="1.1"/>
<path d="M224.70,308.40 L225.41,307.55 L226.48,305.77 L227.20,304.30 L227.91,302.37 L228.98,298.67 L230.76,291.73 L233.26,282.65 L233.97,280.24 L234.33,279.24 L234.68,278.43 L235.04,277.84 L236.11,276.57 L236.82,275.94 L237.18,275.75 L237.53,275.64 L237.89,275.64 L238.25,275.72 L238.96,276.11 L239.67,276.69 L241.46,278.35 L242.52,279.61 L244.66,282.47 L247.52,286.03 L248.94,287.64 L249.66,288.23 L250.01,288.45 L251.44,289.05 L252.86,289.52 L254.29,289.77 L255.72,289.77 L259.28,289.49 L259.99,289.52 L260.71,289.63 L261.78,289.92 L265.34,291.15 L269.98,293.13 L271.76,293.82 L275.32,294.87 L282.10,296.54 L287.80,297.81 L293.86,299.01 L300.63,300.19 L308.48,301.37 L317.03,302.47 L325.95,303.43 L335.57,304.29 L349.83,305.30 L365.87,306.15 L384.41,306.84 L397.96,307.22 L402.95,307.29 L404.02,307.50 L406.87,308.74 L407.94,308.93 L410.79,308.76 L417.57,307.73 L419.35,307.53 L420.78,307.45 L424.34,307.55 L432.90,308.27 L434.68,308.32 L438.60,308.31" fill="none" stroke="#ff0000" stroke-width="1.6" stroke-linejoin="round"/>
<text x="224.70" y="334.90" style="font-family:'Liberation Sans',sans-serif;font-size:12.4px" text-anchor="middle" fill="#262626">0</text>
<text x="260.35" y="334.90" style="font-family:'Liberation Sans',sans-serif;font-size:12.4px" text-anchor="middle" fill="#262626">2</text>
<text x="296.00" y="334.90" style="font-family:'Liberation Sans',sans-serif;font-size:12.4px" text-anchor="middle" fill="#262626">4</text>
<text x="331.65" y="334.90" style="font-family:'Liberation Sans',sans-serif;font-size:12.4px" text-anchor="middle" fill="#262626">6</text>
<text x="367.30" y="334.90" style="font-family:'Liberation Sans',sans-serif;font-size:12.4px" text-anchor="middle" fill="#262626">8</text>
<text x="402.95" y="334.90" style="font-family:'Liberation Sans',sans-serif;font-size:12.4px" text-anchor="middle" fill="#262626">10</text>
<text x="438.60" y="334.90" style="font-family:'Liberation Sans',sans-serif;font-size:12.4px" text-anchor="middle" fill="#262626">12</text>
<text x="221.70" y="313.70" style="font-family:'Liberation Sans',sans-serif;font-size:12.4px" text-anchor="end" fill="#262626">0</text>
<text x="221.70" y="294.60" style="font-family:'Liberation Sans',sans-serif;font-size:12.4px" text-anchor="end" fill="#262626">0.05</text>
<text x="221.70" y="275.50" style="font-family:'Liberation Sans',sans-serif;font-size:12.4px" text-anchor="end" fill="#262626">0.1</text>
<rect x="503.3" y="264.2" width="159.2" height="27.2" fill="#fff" stroke="#262626" stroke-width="1.5"/>
<line x1="508.9" y1="277.2" x2="556.0" y2="277.2" stroke="#ff0000" stroke-width="1.6"/>
<text x="560.2" y="284.40" style="font-family:'Liberation Serif',serif;font-size:19px" fill="#000">LDR-ISE1.4</text>
<line x1="125.03" y1="370.9" x2="125.03" y2="488.0" stroke="rgba(38,38,38,0.17)" stroke-width="1.8"/>
<line x1="185.76" y1="370.9" x2="185.76" y2="488.0" stroke="rgba(38,38,38,0.17)" stroke-width="1.8"/>
<line x1="246.49" y1="370.9" x2="246.49" y2="488.0" stroke="rgba(38,38,38,0.17)" stroke-width="1.8"/>
<line x1="307.22" y1="370.9" x2="307.22" y2="488.0" stroke="rgba(38,38,38,0.17)" stroke-width="1.8"/>
<line x1="367.95" y1="370.9" x2="367.95" y2="488.0" stroke="rgba(38,38,38,0.17)" stroke-width="1.8"/>
<line x1="428.68" y1="370.9" x2="428.68" y2="488.0" stroke="rgba(38,38,38,0.17)" stroke-width="1.8"/>
<line x1="489.41" y1="370.9" x2="489.41" y2="488.0" stroke="rgba(38,38,38,0.17)" stroke-width="1.8"/>
<line x1="550.14" y1="370.9" x2="550.14" y2="488.0" stroke="rgba(38,38,38,0.17)" stroke-width="1.8"/>
<line x1="610.87" y1="370.9" x2="610.87" y2="488.0" stroke="rgba(38,38,38,0.17)" stroke-width="1.8"/>
<line x1="64.3" y1="474.37" x2="671.6" y2="474.37" stroke="rgba(38,38,38,0.17)" stroke-width="1.8"/>
<line x1="64.3" y1="440.29" x2="671.6" y2="440.29" stroke="rgba(38,38,38,0.17)" stroke-width="1.8"/>
<line x1="64.3" y1="406.21" x2="671.6" y2="406.21" stroke="rgba(38,38,38,0.17)" stroke-width="1.8"/>
<line x1="64.3" y1="372.13" x2="671.6" y2="372.13" stroke="rgba(38,38,38,0.17)" stroke-width="1.8"/>
<line x1="125.03" y1="488.0" x2="125.03" y2="481.7" stroke="#000" stroke-width="1.8"/>
<line x1="125.03" y1="370.9" x2="125.03" y2="377.2" stroke="#000" stroke-width="1.8"/>
<line x1="185.76" y1="488.0" x2="185.76" y2="481.7" stroke="#000" stroke-width="1.8"/>
<line x1="185.76" y1="370.9" x2="185.76" y2="377.2" stroke="#000" stroke-width="1.8"/>
<line x1="246.49" y1="488.0" x2="246.49" y2="481.7" stroke="#000" stroke-width="1.8"/>
<line x1="246.49" y1="370.9" x2="246.49" y2="377.2" stroke="#000" stroke-width="1.8"/>
<line x1="307.22" y1="488.0" x2="307.22" y2="481.7" stroke="#000" stroke-width="1.8"/>
<line x1="307.22" y1="370.9" x2="307.22" y2="377.2" stroke="#000" stroke-width="1.8"/>
<line x1="367.95" y1="488.0" x2="367.95" y2="481.7" stroke="#000" stroke-width="1.8"/>
<line x1="367.95" y1="370.9" x2="367.95" y2="377.2" stroke="#000" stroke-width="1.8"/>
<line x1="428.68" y1="488.0" x2="428.68" y2="481.7" stroke="#000" stroke-width="1.8"/>
<line x1="428.68" y1="370.9" x2="428.68" y2="377.2" stroke="#000" stroke-width="1.8"/>
<line x1="489.41" y1="488.0" x2="489.41" y2="481.7" stroke="#000" stroke-width="1.8"/>
<line x1="489.41" y1="370.9" x2="489.41" y2="377.2" stroke="#000" stroke-width="1.8"/>
<line x1="550.14" y1="488.0" x2="550.14" y2="481.7" stroke="#000" stroke-width="1.8"/>
<line x1="550.14" y1="370.9" x2="550.14" y2="377.2" stroke="#000" stroke-width="1.8"/>
<line x1="610.87" y1="488.0" x2="610.87" y2="481.7" stroke="#000" stroke-width="1.8"/>
<line x1="610.87" y1="370.9" x2="610.87" y2="377.2" stroke="#000" stroke-width="1.8"/>
<line x1="64.3" y1="474.37" x2="70.6" y2="474.37" stroke="#000" stroke-width="1.8"/>
<line x1="671.6" y1="474.37" x2="665.3000000000001" y2="474.37" stroke="#000" stroke-width="1.8"/>
<line x1="64.3" y1="440.29" x2="70.6" y2="440.29" stroke="#000" stroke-width="1.8"/>
<line x1="671.6" y1="440.29" x2="665.3000000000001" y2="440.29" stroke="#000" stroke-width="1.8"/>
<line x1="64.3" y1="406.21" x2="70.6" y2="406.21" stroke="#000" stroke-width="1.8"/>
<line x1="671.6" y1="406.21" x2="665.3000000000001" y2="406.21" stroke="#000" stroke-width="1.8"/>
<line x1="64.3" y1="372.13" x2="70.6" y2="372.13" stroke="#000" stroke-width="1.8"/>
<line x1="671.6" y1="372.13" x2="665.3000000000001" y2="372.13" stroke="#000" stroke-width="1.8"/>
<rect x="64.3" y="370.9" width="607.30" height="117.10" fill="none" stroke="#000" stroke-width="2"/>
<path d="M64.30,474.37 L64.54,473.06 L64.91,469.26 L65.15,465.96 L65.39,460.92 L66.61,421.55 L67.58,393.20 L67.94,384.49 L68.19,380.38 L68.79,373.81 L69.16,371.31 L69.28,370.91 L69.40,370.90 L69.52,370.90 L69.64,371.26 L70.01,373.54 L70.62,379.62 L70.86,383.24 L71.22,391.43 L72.07,414.36 L73.05,435.85 L73.53,444.66 L73.77,447.79 L74.50,455.10 L74.87,457.68 L75.11,458.66 L75.23,458.87 L75.35,458.88 L75.47,458.75 L75.84,457.70 L76.20,455.94 L77.05,451.00 L78.75,442.52 L79.24,440.83 L79.48,440.39 L79.60,440.30 L79.73,440.30 L79.97,440.48 L80.21,440.89 L80.70,442.23 L82.03,447.79 L82.52,450.52 L83.73,459.76 L84.22,462.69 L85.19,466.22 L85.56,467.16 L85.92,467.65 L86.16,467.67 L86.53,467.39 L87.86,465.25 L89.32,463.56 L89.93,463.06 L90.29,462.93 L90.54,462.93 L90.78,463.02 L91.14,463.29 L91.87,464.24 L93.69,467.27 L95.27,470.60 L95.64,471.15 L96.00,471.46 L96.49,471.49 L97.09,471.36 L99.64,470.39 L100.25,470.28 L100.74,470.30 L101.35,470.42 L101.95,470.64 L104.02,471.63 L107.05,472.86 L108.03,473.14 L109.85,473.48 L112.28,473.77 L115.80,473.99 L125.15,474.18 L125.39,474.34 L125.64,474.61 L126.73,476.41 L127.09,476.85 L127.34,477.01 L127.58,477.02 L127.95,476.92 L128.55,476.55 L129.28,475.84 L131.35,473.49 L132.07,472.96 L132.68,472.80 L133.17,472.86 L133.78,473.08 L136.57,474.84 L137.18,475.09 L137.78,475.19 L138.39,475.14 L139.00,475.00 L142.03,473.92 L142.64,473.80 L143.25,473.75 L144.46,473.84 L147.20,474.26 L148.41,474.36 L185.76,474.37 L186.06,474.49 L186.37,474.82 L187.58,476.78 L187.89,477.11 L188.19,477.23 L188.80,477.06 L189.40,476.62 L190.01,475.99 L191.53,474.11 L192.14,473.46 L192.74,473.00 L193.35,472.80 L193.96,472.88 L194.57,473.11 L197.30,474.84 L197.91,475.09 L198.51,475.19 L199.12,475.14 L199.73,475.00 L202.76,473.92 L203.37,473.80 L203.98,473.75 L205.19,473.84 L207.93,474.26 L209.14,474.36 L246.49,474.37 L246.79,474.49 L247.10,474.82 L248.31,476.78 L248.62,477.11 L248.92,477.23 L249.53,477.06 L250.13,476.62 L250.74,475.99 L252.26,474.11 L252.87,473.46 L253.47,473.00 L254.08,472.80 L254.69,472.88 L255.30,473.11 L258.03,474.84 L258.64,475.09 L259.24,475.19 L259.85,475.14 L260.46,475.00 L263.49,473.92 L264.10,473.80 L264.71,473.75 L265.92,473.84 L268.66,474.26 L269.87,474.36 L307.22,474.37 L307.52,474.49 L307.83,474.82 L309.04,476.78 L309.35,477.11 L309.65,477.23 L310.26,477.06 L310.86,476.62 L311.47,475.99 L312.99,474.11 L313.60,473.46 L314.20,473.00 L314.81,472.80 L315.42,472.88 L316.03,473.11 L318.76,474.84 L319.37,475.09 L319.97,475.19 L320.58,475.14 L321.19,475.00 L324.22,473.92 L324.83,473.80 L325.44,473.75 L326.65,473.84 L329.39,474.26 L330.60,474.36 L367.95,474.37 L368.25,474.24 L368.56,473.92 L369.77,471.95 L370.08,471.63 L370.38,471.51 L370.99,471.67 L371.59,472.11 L372.20,472.75 L373.72,474.62 L374.33,475.27 L374.93,475.74 L375.54,475.93 L376.15,475.86 L376.76,475.62 L379.49,473.89 L380.10,473.64 L380.70,473.55 L381.31,473.60 L381.92,473.73 L384.95,474.81 L385.56,474.94 L386.17,474.98 L387.38,474.90 L390.12,474.48 L391.33,474.37 L428.68,474.37 L428.98,474.24 L429.29,473.92 L430.50,471.95 L430.81,471.63 L431.11,471.51 L431.72,471.67 L432.32,472.11 L432.93,472.75 L434.45,474.62 L435.06,475.27 L435.66,475.74 L436.27,475.93 L436.88,475.86 L437.49,475.62 L440.22,473.89 L440.83,473.64 L441.43,473.55 L442.04,473.60 L442.65,473.73 L445.68,474.81 L446.29,474.94 L446.90,474.98 L448.11,474.90 L450.85,474.48 L452.06,474.37 L489.41,474.37 L489.71,474.24 L490.02,473.92 L491.23,471.95 L491.54,471.63 L491.84,471.51 L492.45,471.67 L493.05,472.11 L493.66,472.75 L495.18,474.62 L495.79,475.27 L496.39,475.74 L497.00,475.93 L497.61,475.86 L498.22,475.62 L500.95,473.89 L501.56,473.64 L502.16,473.55 L502.77,473.60 L503.38,473.73 L506.41,474.81 L507.02,474.94 L507.63,474.98 L508.84,474.90 L511.58,474.48 L512.79,474.37 L550.14,474.37 L550.44,474.24 L550.75,473.92 L551.96,471.95 L552.27,471.63 L552.57,471.51 L553.18,471.67 L553.78,472.11 L554.39,472.75 L555.91,474.62 L556.52,475.27 L557.12,475.74 L557.73,475.93 L558.34,475.86 L558.95,475.62 L561.68,473.89 L562.29,473.64 L562.89,473.55 L563.50,473.60 L564.11,473.73 L567.14,474.81 L567.75,474.94 L568.36,474.98 L569.57,474.90 L572.31,474.48 L573.52,474.37 L610.87,474.37 L611.17,474.24 L611.48,473.92 L612.69,471.95 L613.00,471.63 L613.30,471.51 L613.91,471.67 L614.51,472.11 L615.12,472.75 L616.64,474.62 L617.25,475.27 L617.85,475.74 L618.46,475.93 L619.07,475.86 L619.68,475.62 L622.41,473.89 L623.02,473.64 L623.62,473.55 L624.23,473.60 L624.84,473.73 L627.87,474.81 L628.48,474.94 L629.09,474.98 L630.30,474.90 L633.04,474.48 L634.25,474.37 L671.60,474.37" fill="none" stroke="#0000ff" stroke-width="2.0" stroke-linejoin="round"/>
<text x="56.40" y="481.27" style="font-family:'Liberation Serif',serif;font-size:19px" text-anchor="end" fill="#000">0</text>
<text x="56.40" y="447.19" style="font-family:'Liberation Serif',serif;font-size:19px" text-anchor="end" fill="#000">0.05</text>
<text x="56.40" y="413.11" style="font-family:'Liberation Serif',serif;font-size:19px" text-anchor="end" fill="#000">0.1</text>
<text x="56.40" y="379.03" style="font-family:'Liberation Serif',serif;font-size:19px" text-anchor="end" fill="#000">0.15</text>
<text transform="translate(16.10,429.85) rotate(-90)" style="font-family:'Liberation Serif',serif;font-size:21px" text-anchor="middle" fill="#000">del F</text>
<rect x="224.5" y="383.5" width="215.20" height="53.70" fill="#fff"/>
<line x1="260.37" y1="383.5" x2="260.37" y2="437.2" stroke="rgba(38,38,38,0.13)" stroke-width="1"/>
<line x1="296.23" y1="383.5" x2="296.23" y2="437.2" stroke="rgba(38,38,38,0.13)" stroke-width="1"/>
<line x1="332.10" y1="383.5" x2="332.10" y2="437.2" stroke="rgba(38,38,38,0.13)" stroke-width="1"/>
<line x1="367.97" y1="383.5" x2="367.97" y2="437.2" stroke="rgba(38,38,38,0.13)" stroke-width="1"/>
<line x1="403.83" y1="383.5" x2="403.83" y2="437.2" stroke="rgba(38,38,38,0.13)" stroke-width="1"/>
<line x1="224.5" y1="429.60" x2="439.7" y2="429.60" stroke="rgba(38,38,38,0.13)" stroke-width="1"/>
<line x1="224.5" y1="416.80" x2="439.7" y2="416.80" stroke="rgba(38,38,38,0.13)" stroke-width="1"/>
<line x1="224.5" y1="404.00" x2="439.7" y2="404.00" stroke="rgba(38,38,38,0.13)" stroke-width="1"/>
<line x1="224.5" y1="391.20" x2="439.7" y2="391.20" stroke="rgba(38,38,38,0.13)" stroke-width="1"/>
<line x1="224.50" y1="437.2" x2="224.50" y2="434.59999999999997" stroke="#262626" stroke-width="1"/>
<line x1="224.50" y1="383.5" x2="224.50" y2="386.1" stroke="#262626" stroke-width="1"/>
<line x1="260.37" y1="437.2" x2="260.37" y2="434.59999999999997" stroke="#262626" stroke-width="1"/>
<line x1="260.37" y1="383.5" x2="260.37" y2="386.1" stroke="#262626" stroke-width="1"/>
<line x1="296.23" y1="437.2" x2="296.23" y2="434.59999999999997" stroke="#262626" stroke-width="1"/>
<line x1="296.23" y1="383.5" x2="296.23" y2="386.1" stroke="#262626" stroke-width="1"/>
<line x1="332.10" y1="437.2" x2="332.10" y2="434.59999999999997" stroke="#262626" stroke-width="1"/>
<line x1="332.10" y1="383.5" x2="332.10" y2="386.1" stroke="#262626" stroke-width="1"/>
<line x1="367.97" y1="437.2" x2="367.97" y2="434.59999999999997" stroke="#262626" stroke-width="1"/>
<line x1="367.97" y1="383.5" x2="367.97" y2="386.1" stroke="#262626" stroke-width="1"/>
<line x1="403.83" y1="437.2" x2="403.83" y2="434.59999999999997" stroke="#262626" stroke-width="1"/>
<line x1="403.83" y1="383.5" x2="403.83" y2="386.1" stroke="#262626" stroke-width="1"/>
<line x1="439.70" y1="437.2" x2="439.70" y2="434.59999999999997" stroke="#262626" stroke-width="1"/>
<line x1="439.70" y1="383.5" x2="439.70" y2="386.1" stroke="#262626" stroke-width="1"/>
<line x1="224.5" y1="429.60" x2="227.1" y2="429.60" stroke="#262626" stroke-width="1"/>
<line x1="439.7" y1="429.60" x2="437.09999999999997" y2="429.60" stroke="#262626" stroke-width="1"/>
<line x1="224.5" y1="416.80" x2="227.1" y2="416.80" stroke="#262626" stroke-width="1"/>
<line x1="439.7" y1="416.80" x2="437.09999999999997" y2="416.80" stroke="#262626" stroke-width="1"/>
<line x1="224.5" y1="404.00" x2="227.1" y2="404.00" stroke="#262626" stroke-width="1"/>
<line x1="439.7" y1="404.00" x2="437.09999999999997" y2="404.00" stroke="#262626" stroke-width="1"/>
<line x1="224.5" y1="391.20" x2="227.1" y2="391.20" stroke="#262626" stroke-width="1"/>
<line x1="439.7" y1="391.20" x2="437.09999999999997" y2="391.20" stroke="#262626" stroke-width="1"/>
<rect x="224.5" y="383.5" width="215.20" height="53.70" fill="none" stroke="#3a3a3a" stroke-width="1.1"/>
<path d="M224.50,429.60 L224.86,429.41 L225.22,429.11 L225.58,428.71 L226.29,427.68 L227.01,426.44 L227.73,424.55 L228.80,420.52 L230.60,412.63 L231.31,409.76 L234.18,399.12 L235.26,395.84 L235.98,394.30 L237.05,392.73 L237.77,391.83 L238.49,391.13 L238.85,390.89 L239.21,390.74 L239.56,390.69 L239.92,390.74 L240.28,390.87 L240.64,391.09 L241.36,391.73 L242.07,392.57 L243.15,394.02 L243.51,394.61 L243.87,395.37 L244.94,398.45 L247.45,407.06 L250.32,415.13 L251.04,416.92 L251.76,418.44 L252.48,419.62 L253.91,421.52 L254.63,422.36 L255.70,423.33 L256.42,423.70 L256.78,423.78 L257.14,423.78 L257.86,423.64 L258.93,423.14 L260.01,422.42 L262.16,420.82 L263.95,419.74 L266.46,418.06 L267.54,417.45 L268.26,417.13 L268.97,416.91 L270.05,416.80 L270.77,416.87 L271.49,417.02 L272.92,417.53 L274.35,418.23 L276.87,419.62 L277.58,420.07 L278.30,420.64 L281.89,424.11 L282.60,424.72 L283.32,425.21 L286.19,426.54 L287.27,426.89 L288.34,427.08 L289.06,427.08 L290.14,426.98 L294.08,426.18 L298.39,425.54 L300.18,425.35 L301.97,425.30 L303.77,425.44 L305.92,425.80 L311.30,426.93 L315.96,428.19 L317.39,428.44 L318.47,428.52 L321.70,428.46 L328.87,428.11 L332.10,428.07 L335.69,428.20 L350.75,429.04 L359.00,429.26 L376.57,429.46 L404.19,429.53 L405.63,429.69 L409.57,430.49 L411.01,430.60 L412.80,430.54 L414.59,430.38 L422.13,429.31 L423.92,429.12 L425.71,429.02 L427.51,429.02 L429.66,429.12 L436.83,429.70 L439.70,429.87" fill="none" stroke="#0000ff" stroke-width="2.0" stroke-linejoin="round"/>
<text x="224.50" y="452.80" style="font-family:'Liberation Sans',sans-serif;font-size:12.4px" text-anchor="middle" fill="#262626">0</text>
<text x="260.37" y="452.80" style="font-family:'Liberation Sans',sans-serif;font-size:12.4px" text-anchor="middle" fill="#262626">2</text>
<text x="296.23" y="452.80" style="font-family:'Liberation Sans',sans-serif;font-size:12.4px" text-anchor="middle" fill="#262626">4</text>
<text x="332.10" y="452.80" style="font-family:'Liberation Sans',sans-serif;font-size:12.4px" text-anchor="middle" fill="#262626">6</text>
<text x="367.97" y="452.80" style="font-family:'Liberation Sans',sans-serif;font-size:12.4px" text-anchor="middle" fill="#262626">8</text>
<text x="403.83" y="452.80" style="font-family:'Liberation Sans',sans-serif;font-size:12.4px" text-anchor="middle" fill="#262626">10</text>
<text x="439.70" y="452.80" style="font-family:'Liberation Sans',sans-serif;font-size:12.4px" text-anchor="middle" fill="#262626">12</text>
<text x="221.50" y="434.90" style="font-family:'Liberation Sans',sans-serif;font-size:12.4px" text-anchor="end" fill="#262626">0</text>
<text x="221.50" y="422.10" style="font-family:'Liberation Sans',sans-serif;font-size:12.4px" text-anchor="end" fill="#262626">0.05</text>
<text x="221.50" y="409.30" style="font-family:'Liberation Sans',sans-serif;font-size:12.4px" text-anchor="end" fill="#262626">0.1</text>
<text x="221.50" y="396.50" style="font-family:'Liberation Sans',sans-serif;font-size:12.4px" text-anchor="end" fill="#262626">0.15</text>
<rect x="507.2" y="382.5" width="152.6" height="27.6" fill="#fff" stroke="#262626" stroke-width="1.5"/>
<line x1="512.2" y1="395.8" x2="559.3" y2="395.8" stroke="#0000ff" stroke-width="2.0"/>
<text x="563.5" y="403.00" style="font-family:'Liberation Serif',serif;font-size:19px" fill="#000">SP-ITSE1.4</text>
<text x="64.30" y="513.2" style="font-family:'Liberation Serif',serif;font-size:19px" text-anchor="middle" fill="#000">0</text>
<text x="125.03" y="513.2" style="font-family:'Liberation Serif',serif;font-size:19px" text-anchor="middle" fill="#000">10</text>
<text x="185.76" y="513.2" style="font-family:'Liberation Serif',serif;font-size:19px" text-anchor="middle" fill="#000">20</text>
<text x="246.49" y="513.2" style="font-family:'Liberation Serif',serif;font-size:19px" text-anchor="middle" fill="#000">30</text>
<text x="307.22" y="513.2" style="font-family:'Liberation Serif',serif;font-size:19px" text-anchor="middle" fill="#000">40</text>
<text x="367.95" y="513.2" style="font-family:'Liberation Serif',serif;font-size:19px" text-anchor="middle" fill="#000">50</text>
<text x="428.68" y="513.2" style="font-family:'Liberation Serif',serif;font-size:19px" text-anchor="middle" fill="#000">60</text>
<text x="489.41" y="513.2" style="font-family:'Liberation Serif',serif;font-size:19px" text-anchor="middle" fill="#000">70</text>
<text x="550.14" y="513.2" style="font-family:'Liberation Serif',serif;font-size:19px" text-anchor="middle" fill="#000">80</text>
<text x="610.87" y="513.2" style="font-family:'Liberation Serif',serif;font-size:19px" text-anchor="middle" fill="#000">90</text>
<text x="671.60" y="513.2" style="font-family:'Liberation Serif',serif;font-size:19px" text-anchor="middle" fill="#000">100</text>
<text x="367.9" y="539.5" style="font-family:'Liberation Serif',serif;font-size:21px" text-anchor="middle" fill="#000">Time (sec)</text>
</svg></body></html>
